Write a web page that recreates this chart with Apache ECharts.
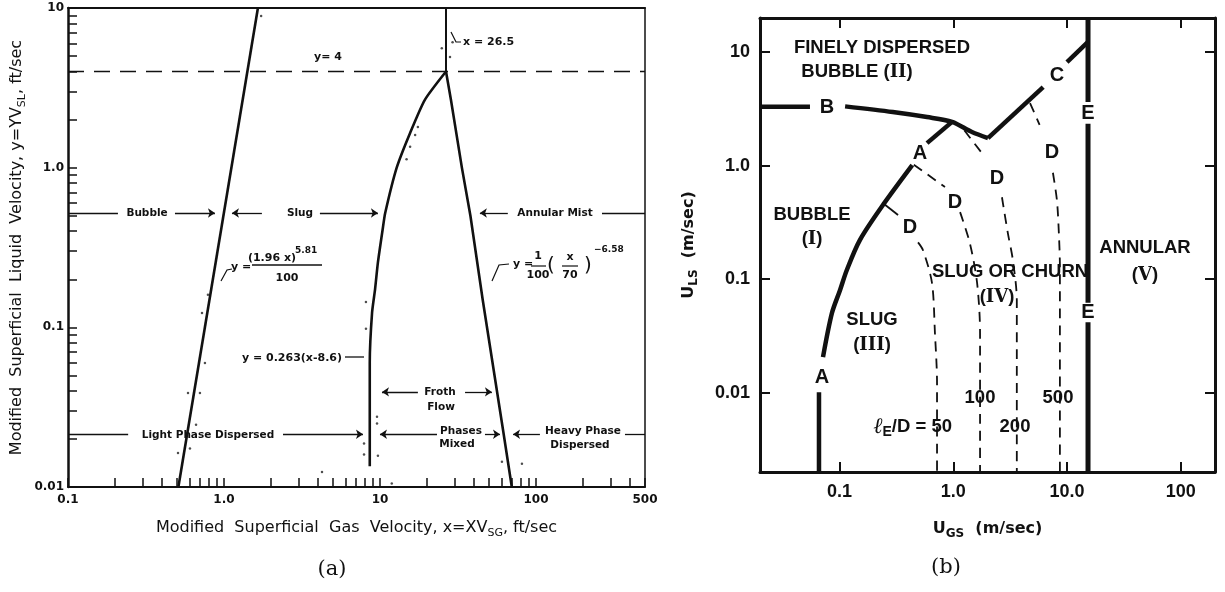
<!DOCTYPE html>
<html><head><meta charset="utf-8">
<script src="https://cdn.jsdelivr.net/npm/echarts@6/dist/echarts.min.js"></script>
<style>html,body{margin:0;padding:0;background:#fff}#c{width:1225px;height:592px}</style>
</head><body><div id="c"></div>
<script>
// ================= Panel (a) data =================
const aTickLabelsX = [0.1, 1, 10, 100, 500];
const aTickTextX = ['0.1', '1.0', '10', '100', '500'];
const aTickLabelsY = [0.01, 0.1, 1, 10];
const aTickTextY = ['0.01', '0.1', '1.0', '10'];
const aTicksX = [0.1,0.2,0.3,0.4,0.5,0.6,0.7,0.8,0.9,1,2,3,4,5,6,7,8,9,10,20,30,40,50,60,70,80,90,100,200,300,400,500];
const aTicksY = [0.01,0.02,0.03,0.04,0.05,0.06,0.07,0.08,0.09,0.1,0.2,0.3,0.4,0.5,0.6,0.7,0.8,0.9,1,2,3,4,5,6,7,8,9,10];

// bubble / slug boundary  y=(1.96x)^5.81/100
const aBubbleSlugX = [0.51, 1.65];
const aBubbleSlugY = [0.01, 10];
// slug / froth boundary (vertical then curve up to x=26.5, y=4)
const aSlugFrothX = [8.6, 8.6, 8.9, 9.3, 9.7, 10.4, 10.8, 12.8, 15.6, 19.4, 26.5];
const aSlugFrothY = [0.0135, 0.06, 0.124, 0.173, 0.255, 0.41, 0.52, 1.0, 1.65, 2.66, 4.0];
// x = 26.5 (slug / annular above y=4)
const aSlugAnnularX = [26.5, 26.5];
const aSlugAnnularY = [4, 10];
// froth / annular boundary  y=(1/100)(x/70)^-6.58
const aFrothAnnularX = [26.5, 28.5, 33.5, 38, 45.5, 61.4, 70];
const aFrothAnnularY = [4.0, 2.66, 1.0, 0.5, 0.15, 0.023, 0.01];
// y = 4 dashed
const aY4X = [0.1, 500];
const aY4Y = [4, 4];
// experimental dots
const aDotsX = [0.723, 0.755, 0.588, 0.701, 0.662, 0.507, 0.605, 0.789, 1.73, 24.9, 28.1, 29.2, 17.5, 16.8, 15.6, 14.8, 8.13, 8.13, 9.57, 9.57, 7.9, 7.9, 9.7, 60.5, 81.3, 4.25, 11.9];
const aDotsY = [0.123, 0.0598, 0.0388, 0.0388, 0.0245, 0.0163, 0.0174, 0.16, 8.9, 5.6, 4.93, 6.1, 1.8, 1.6, 1.35, 1.13, 0.144, 0.098, 0.0275, 0.025, 0.0187, 0.016, 0.0157, 0.0144, 0.014, 0.0124, 0.0105];
// region label rows (y levels)
const aRowUpperY = 0.52;
const aRowLowerY = 0.0214;
const aRowFrothY = 0.0394;

// ================= Panel (b) data =================
const bTickLabelsX = [0.1, 1, 10, 100];
const bTickTextX = ['0.1', '1.0', '10.0', '100'];
const bTickLabelsY = [0.01, 0.1, 1, 10];
const bTickTextY = ['0.01', '0.1', '1.0', '10'];

// curve A (bubble / slug)
const bA1X = [0.066, 0.066];
const bA1Y = [0.002, 0.0101];
const bA2X = [0.0716, 0.0858, 0.101, 0.116, 0.151, 0.241, 0.436];
const bA2Y = [0.0206, 0.0503, 0.080, 0.1205, 0.221, 0.450, 1.01];
const bA3X = [0.588, 0.976];
const bA3Y = [1.58, 2.43];
// curve B (dispersed bubble)
const bB1X = [0.02, 0.055];
const bB1Y = [3.3, 3.3];
const bB2X = [0.112, 0.294, 0.588, 0.976, 1.46, 2.02];
const bB2Y = [3.33, 2.97, 2.68, 2.43, 1.98, 1.75];
// curve C
const bC1X = [2.02, 6.17];
const bC1Y = [1.75, 4.93];
const bC2X = [10.0, 15.3];
const bC2Y = [8.18, 12.3];
// line E (annular)
const bE1X = [15.3, 15.3];
const bE1Y = [20, 3.64];
const bE2X = [15.3, 15.3];
const bE2Y = [2.34, 0.0621];
const bE3X = [15.3, 15.3];
const bE3Y = [0.0418, 0.002];
// dashed D curves, lE/D = 50, 100, 200, 500
const bD50aX = [0.237, 0.327];
const bD50aY = [0.473, 0.367];
const bD50bX = [0.49, 0.542, 0.65, 0.69, 0.72, 0.72];
const bD50bY = [0.211, 0.180, 0.0927, 0.0336, 0.01215, 0.002];
const bD100aX = [0.45, 0.846];
const bD100aY = [1.02, 0.648];
const bD100bX = [1.148, 1.40, 1.62, 1.72, 1.72];
const bD100bY = [0.39, 0.207, 0.0927, 0.0336, 0.002];
const bD200aX = [1.25, 1.90];
const bD200aY = [2.05, 1.19];
const bD200bX = [2.68, 3.02, 3.34, 3.62, 3.62, 3.62];
const bD200bY = [0.527, 0.254, 0.148, 0.0654, 0.0238, 0.002];
const bD500aX = [4.73, 5.74];
const bD500aY = [3.56, 2.29];
const bD500bX = [7.52, 8.15, 8.48, 8.66, 8.66];
const bD500bY = [0.866, 0.498, 0.254, 0.128, 0.002];

// ================= build chart =================
const INK = '#111';
const SANS = 'DejaVu Sans';
const chart = echarts.init(document.getElementById('c'), null, {renderer: 'canvas'});

function fmt(vals, texts) {
  return function (v) {
    for (let i = 0; i < vals.length; i++) if (Math.abs(v / vals[i] - 1) < 1e-6) return texts[i];
    return '';
  };
}
function pairs(xs, ys) { return xs.map((x, i) => [x, ys[i]]); }
function line(xs, ys, g, w, type, smooth) {
  return {
    type: 'line', xAxisIndex: g * 2, yAxisIndex: g * 2, data: pairs(xs, ys),
    showSymbol: false, symbol: 'none', smooth: smooth || false,
    silent: true, animation: false,
    lineStyle: {color: INK, width: w, type: type || 'solid', cap: 'butt', join: 'round'}, z: 3
  };
}
function seg(x1, x2, y, arrowEnd) {
  return [{coord: [x1, y], symbol: 'none'}, {coord: [x2, y], symbol: arrowEnd ? 'arrow' : 'none'}];
}
const subRich = {s: {fontSize: 11, lineHeight: 11, verticalAlign: 'bottom', fontFamily: SANS, color: INK}};
const subRichB = {s: {fontSize: 12, lineHeight: 12, verticalAlign: 'bottom', fontFamily: SANS, fontWeight: 'bold', color: INK}};

const xAxes = [
  {gridIndex: 0, type: 'log', min: 0.1, max: 500, position: 'bottom',
   axisLine: {show: true, lineStyle: {color: INK, width: 2}},
   axisTick: {show: true, inside: true, length: 9, customValues: aTicksX, lineStyle: {color: INK, width: 1.5}},
   axisLabel: {show: true, customValues: aTickLabelsX, formatter: fmt(aTickLabelsX, aTickTextX), color: INK, fontFamily: SANS, fontWeight: 'bold', fontSize: 12, margin: 7},
   splitLine: {show: false},
   name: 'Modified  Superficial  Gas  Velocity, x=XV{s|SG}, ft/sec', nameLocation: 'middle', nameGap: 30,
   nameTextStyle: {fontFamily: SANS, fontSize: 16, color: INK, lineHeight: 22, rich: subRich}},
  {gridIndex: 0, type: 'log', min: 0.1, max: 500, position: 'top',
   axisLine: {show: true, lineStyle: {color: INK, width: 2}}, axisTick: {show: false}, axisLabel: {show: false}, splitLine: {show: false}},
  {gridIndex: 1, type: 'log', min: 0.02, max: 200, position: 'bottom',
   axisLine: {show: true, lineStyle: {color: INK, width: 3}},
   axisTick: {show: true, inside: true, length: 10, customValues: bTickLabelsX, lineStyle: {color: INK, width: 2}},
   axisLabel: {show: true, customValues: bTickLabelsX, formatter: fmt(bTickLabelsX, bTickTextX), color: INK, fontFamily: 'Liberation Sans', fontWeight: 'bold', fontSize: 18, margin: 11},
   splitLine: {show: false},
   name: 'U{s|GS}  (m/sec)', nameLocation: 'middle', nameGap: 46,
   nameTextStyle: {fontFamily: SANS, fontSize: 16, fontWeight: 'bold', color: INK, lineHeight: 22, rich: subRichB}},
  {gridIndex: 1, type: 'log', min: 0.02, max: 200, position: 'top',
   axisLine: {show: true, lineStyle: {color: INK, width: 3}},
   axisTick: {show: true, inside: true, length: 10, customValues: bTickLabelsX, lineStyle: {color: INK, width: 2}},
   axisLabel: {show: false}, splitLine: {show: false}}
];
const yAxes = [
  {gridIndex: 0, type: 'log', min: 0.01, max: 10, position: 'left',
   axisLine: {show: true, lineStyle: {color: INK, width: 2.5}},
   axisTick: {show: true, inside: true, length: 9, customValues: aTicksY, lineStyle: {color: INK, width: 1.5}},
   axisLabel: {show: true, customValues: aTickLabelsY, formatter: fmt(aTickLabelsY, aTickTextY), color: INK, fontFamily: SANS, fontWeight: 'bold', fontSize: 12, margin: 4},
   splitLine: {show: false},
   name: 'Modified  Superficial  Liquid  Velocity, y=YV{s|SL}, ft/sec', nameLocation: 'middle', nameGap: 40,
   nameTextStyle: {fontFamily: SANS, fontSize: 16, color: INK, lineHeight: 22, rich: subRich}},
  {gridIndex: 0, type: 'log', min: 0.01, max: 10, position: 'right',
   axisLine: {show: true, lineStyle: {color: INK, width: 1.5}}, axisTick: {show: false}, axisLabel: {show: false}, splitLine: {show: false}},
  {gridIndex: 1, type: 'log', min: 0.002, max: 20, position: 'left',
   axisLine: {show: true, lineStyle: {color: INK, width: 3}},
   axisTick: {show: true, inside: true, length: 10, customValues: bTickLabelsY, lineStyle: {color: INK, width: 2}},
   axisLabel: {show: true, customValues: bTickLabelsY, formatter: fmt(bTickLabelsY, bTickTextY), color: INK, fontFamily: 'Liberation Sans', fontWeight: 'bold', fontSize: 18, margin: 10},
   splitLine: {show: false},
   name: 'U{s|LS}  (m/sec)', nameLocation: 'middle', nameGap: 60,
   nameTextStyle: {fontFamily: SANS, fontSize: 16, fontWeight: 'bold', color: INK, lineHeight: 22, rich: subRichB}},
  {gridIndex: 1, type: 'log', min: 0.002, max: 20, position: 'right',
   axisLine: {show: true, lineStyle: {color: INK, width: 3}},
   axisTick: {show: true, inside: true, length: 10, customValues: bTickLabelsY, lineStyle: {color: INK, width: 2}},
   axisLabel: {show: false}, splitLine: {show: false}}
];

const y4 = line(aY4X, aY4Y, 0, 1.6, [16, 10]);
y4.markLine = {
  silent: true, animation: false, symbolSize: 7,
  lineStyle: {color: INK, width: 1.3, type: 'solid'}, label: {show: false},
  data: [
    seg(0.1, 0.209, aRowUpperY, false), seg(0.485, 0.875, aRowUpperY, true), seg(1.75, 1.125, aRowUpperY, true),
    seg(4.12, 9.7, aRowUpperY, true), seg(66, 43.7, aRowUpperY, true), seg(265, 500, aRowUpperY, false),
    seg(0.1, 0.243, aRowLowerY, false), seg(2.39, 7.78, aRowLowerY, true), seg(23.2, 10.0, aRowLowerY, true),
    seg(47.1, 58.8, aRowLowerY, true), seg(106, 71.3, aRowLowerY, true), seg(372, 500, aRowLowerY, false),
    seg(17.5, 10.3, aRowFrothY, true), seg(35.1, 52.2, aRowFrothY, true)
  ]
};

const series = [
  line(aBubbleSlugX, aBubbleSlugY, 0, 2.6),
  line(aSlugFrothX, aSlugFrothY, 0, 2.6, 'solid', 0.2),
  line(aSlugAnnularX, aSlugAnnularY, 0, 2),
  line(aFrothAnnularX, aFrothAnnularY, 0, 2.6),
  y4,
  {type: 'scatter', xAxisIndex: 0, yAxisIndex: 0, data: pairs(aDotsX, aDotsY), symbolSize: 2.5, itemStyle: {color: '#222'}, silent: true, animation: false},
  line(bA1X, bA1Y, 1, 4.5),
  line(bA2X, bA2Y, 1, 4.5, 'solid', 0.3),
  line(bA3X, bA3Y, 1, 4.5),
  line(bB1X, bB1Y, 1, 4.5),
  line(bB2X, bB2Y, 1, 4.5, 'solid', 0.3),
  line(bC1X, bC1Y, 1, 4.5),
  line(bC2X, bC2Y, 1, 4.5),
  line(bE1X, bE1Y, 1, 5),
  line(bE2X, bE2Y, 1, 5),
  line(bE3X, bE3Y, 1, 5),
  line(bD50aX, bD50aY, 1, 1.8),
  line(bD50bX, bD50bY, 1, 1.8, [10, 7], 0.3),
  line(bD100aX, bD100aY, 1, 1.8, [10, 7]),
  line(bD100bX, bD100bY, 1, 1.8, [10, 7], 0.3),
  line(bD200aX, bD200aY, 1, 1.8, [10, 7]),
  line(bD200bX, bD200bY, 1, 1.8, [10, 7], 0.3),
  line(bD500aX, bD500aY, 1, 1.8, [10, 7]),
  line(bD500bX, bD500bY, 1, 1.8, [10, 7], 0.3)
];

// ---- annotation texts
function T(x, y, text, font, align, extra) {
  const st = Object.assign({text: text, font: font, fill: INK, align: align || 'center', verticalAlign: 'middle',
    textAlign: align || 'center', textVerticalAlign: 'middle'}, extra || {});
  return {type: 'text', x: x, y: y, silent: true, z: 10, style: st};
}
function L(pts, w) {
  return {type: 'polyline', silent: true, z: 10, shape: {points: pts}, style: {stroke: INK, lineWidth: w || 1.3, fill: null}};
}
const fa = 'bold 10.5px "' + SANS + '"';
const fe = 'bold 11px "' + SANS + '"';
const fb = 'bold 18.5px "Liberation Sans"';
const fbB = 'bold 20px "Liberation Sans"';
const romanRich = {r: {fontFamily: 'DejaVu Serif', fontWeight: 'bold', fontSize: 18, fill: INK}};

const graphics = [
  // panel (a)
  T(147, 213, 'Bubble', fa), T(300, 213, 'Slug', fa), T(555, 213, 'Annular Mist', fa),
  T(208, 435, 'Light Phase Dispersed', fa),
  T(440, 392, 'Froth', fa), T(441, 407, 'Flow', fa),
  T(461, 431, 'Phases', fa), T(457, 444, 'Mixed', fa),
  T(583, 431, 'Heavy Phase', fa), T(580, 445, 'Dispersed', fa),
  T(328, 57, 'y= 4', fe),
  L([[451, 32], [456, 42], [461, 42]], 1.2), T(463, 42, 'x = 26.5', fe, 'left'),
  // eq 1
  L([[221, 281], [227, 270], [232, 269]], 1.2),
  T(241, 267, 'y =', fe), T(272, 258, '(1.96 x)', fe), T(295, 251, '5.81', 'bold 9px "' + SANS + '"', 'left'),
  L([[252, 265], [322, 265]], 1.3), T(287, 278, '100', fe),
  // eq 2
  T(342, 358, 'y = 0.263(x-8.6)', fe, 'right'), L([[345, 357], [364, 357]], 1.3),
  // eq 3
  L([[492, 281], [499, 265], [509, 264]], 1.2),
  T(523, 264, 'y =', fe), T(538, 256, '1', fe), L([[531, 266], [546, 266]], 1.2), T(538, 275, '100', fe),
  T(551, 266, '(', '20px "' + SANS + '"'), T(570, 257, 'x', fe), L([[562, 266], [578, 266]], 1.2), T(570, 275, '70', fe),
  T(588, 266, ')', '20px "' + SANS + '"'), T(594, 250, '\u22126.58', 'bold 9px "' + SANS + '"', 'left'),
  // panel (b)
  T(882, 48, 'FINELY DISPERSED', fb),
  T(857, 72, 'BUBBLE ({r|II})', fb, 'center', {rich: romanRich}),
  T(827, 107, 'B', fbB), T(920, 153, 'A', fbB), T(822, 377, 'A', fbB), T(1057, 75, 'C', fbB),
  T(1088, 113, 'E', fbB), T(1088, 312, 'E', fbB),
  T(910, 227, 'D', fbB), T(955, 202, 'D', fbB), T(997, 178, 'D', fbB), T(1052, 152, 'D', fbB),
  T(812, 215, 'BUBBLE', fb), T(812, 239, '({r|I})', fb, 'center', {rich: romanRich}),
  T(872, 320, 'SLUG', fb), T(872, 345, '({r|III})', fb, 'center', {rich: romanRich}),
  T(1010, 272, 'SLUG OR CHURN', fb), T(997, 297, '({r|IV})', fb, 'center', {rich: romanRich}),
  T(1145, 248, 'ANNULAR', fb), T(1145, 275, '({r|V})', fb, 'center', {rich: romanRich}),
  T(980, 398, '100', fb), T(1058, 398, '500', fb), T(1015, 427, '200', fb),
  T(952, 427, '{l|\u2113}{e|E}{n|/D = 50}', fb, 'right', {rich: {
    l: {fontFamily: 'DejaVu Serif', fontStyle: 'italic', fontSize: 22, fill: INK, lineHeight: 24},
    e: {fontFamily: 'Liberation Sans', fontWeight: 'bold', fontSize: 14, fill: INK, verticalAlign: 'bottom', lineHeight: 14},
    n: {fontFamily: 'Liberation Sans', fontWeight: 'bold', fontSize: 18.5, fill: INK, lineHeight: 24}}}),
  // captions
  T(332, 570, '(a)', '21px "DejaVu Serif"'),
  T(946, 568, '(b)', '21px "DejaVu Serif"')
];

chart.setOption({
  animation: false,
  backgroundColor: '#fff',
  grid: [
    {left: 68, top: 8, width: 577, height: 479, containLabel: false},
    {left: 760, top: 18, width: 455, height: 454, containLabel: false}
  ],
  xAxis: xAxes,
  yAxis: yAxes,
  series: series,
  graphic: {elements: graphics}
});
</script></body></html>
